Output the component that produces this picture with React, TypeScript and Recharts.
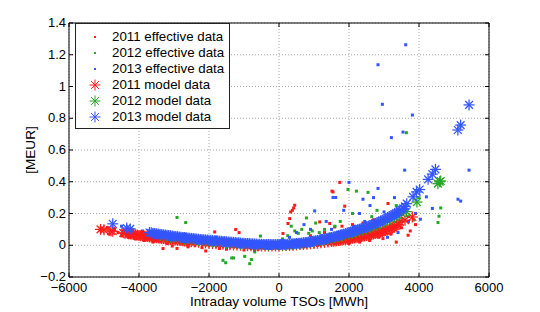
import React from "react";
import {
  ScatterChart,
  Scatter,
  XAxis,
  YAxis,
  CartesianGrid,
  ReferenceArea,
  Legend,
} from "recharts";

const xTicks = [-6000, -4000, -2000, 0, 2000, 4000, 6000];
const yTicks = [-0.2, 0, 0.2, 0.4, 0.6, 0.8, 1, 1.2, 1.4];

// effective data [MWh, MEUR]
const eff2011: [number, number][] = [
  [-4900, 0.11], [-4850, 0.07], [-4700, 0.1], [-4600, 0.08], [-4500, 0.06],
  [-4450, 0.09], [-4300, 0.05], [-4200, 0.085], [-4100, 0.04], [-3950, 0.07],
  [-3850, 0.03], [-3750, 0.06], [-3600, 0.02], [-3450, 0.035], [-3314, -0.021],
  [-3200, 0.01], [-3050, -0.005], [-2914, -0.02], [-2800, 0.02], [-2600, -0.01],
  [-2400, 0.0], [-2200, -0.015], [-2094, -0.036], [-1837, 0.084], [-1700, -0.02],
  [-1500, -0.025], [-1237, 0.099], [-1140, 0.08], [-1000, -0.03], [-800, -0.02],
  [-600, -0.025], [-300, -0.02], [0, -0.02], [114, 0.074], [257, 0.137],
  [306, 0.168], [334, 0.21], [383, 0.22], [420, 0.235], [449, 0.252],
  [500, 0.03], [700, -0.01], [900, 0.06], [1100, 0.0], [1163, 0.147],
  [1300, 0.08], [1449, 0.137], [1514, 0.341], [1543, 0.336], [1591, 0.115],
  [1600, 0.02], [1734, 0.396], [1800, 0.12], [1877, 0.246], [2000, 0.01],
  [2100, 0.13], [2306, 0.02], [2400, 0.14], [2591, 0.03], [2700, 0.16],
  [2850, 0.05], [2971, 0.042], [3114, 0.263], [3200, 0.07], [3350, 0.02],
  [3500, 0.11], [3689, 0.063], [3750, 0.09], [3900, 0.13],
];

const eff2012: [number, number][] = [
  [-4000, 0.06], [-3700, 0.04], [-3500, 0.07], [-3200, 0.03], [-2914, 0.175],
  [-2666, 0.143], [-2500, 0.02], [-2200, 0.04], [-2000, 0.0], [-1800, 0.02],
  [-1600, -0.095], [-1523, -0.11], [-1400, 0.01], [-1351, -0.08], [-1300, -0.08],
  [-1100, 0.03], [-980, -0.07], [-837, -0.116], [-789, -0.09], [-694, -0.042],
  [-531, 0.058], [-300, 0.0], [100, 0.04], [250, 0.06], [350, 0.12],
  [450, 0.09], [550, 0.075], [650, 0.1], [783, 0.172], [850, 0.075],
  [950, 0.09], [1049, 0.14], [1150, 0.08], [1300, 0.1], [1450, 0.07],
  [1600, 0.12], [1750, 0.15], [1971, 0.351], [2100, 0.2], [2211, 0.341],
  [2350, 0.12], [2543, 0.333], [2650, 0.18], [2800, 0.22], [3000, 0.11],
  [3200, 0.13], [3350, 0.25], [3500, 0.15], [3640, 0.709], [3700, 0.18],
  [3850, 0.16], [4000, 0.3], [4543, 0.143], [4571, 0.183], [4620, 0.235],
];

const eff2013: [number, number][] = [
  [-4500, 0.12], [-4200, 0.1], [-3900, 0.09], [-3600, 0.05], [-3300, 0.08],
  [-3000, 0.04], [-2700, 0.07], [-2400, 0.05], [-2100, 0.02], [-1800, 0.05],
  [-1500, 0.01], [-1200, 0.03], [-900, 0.0], [-700, -0.03], [-500, 0.02],
  [-200, -0.02], [100, 0.03], [300, 0.05], [500, 0.08], [714, 0.13],
  [900, 0.1], [1020, 0.216], [1200, 0.06], [1350, 0.15], [1500, 0.1],
  [1543, 0.301], [1620, 0.301], [1700, 0.08], [1850, 0.22], [2000, 0.396],
  [2150, 0.12], [2300, 0.2], [2400, 0.29], [2450, 0.15], [2600, 0.25],
  [2700, 0.3], [2829, 0.358], [2829, 1.137], [2954, 0.888], [3000, 0.21],
  [3100, 0.05], [3211, 0.678], [3300, 0.3], [3400, 0.08], [3543, 0.713],
  [3591, 0.473], [3620, 1.263], [3700, 0.15], [3811, 0.82], [3900, 0.2],
  [4040, 0.164], [4211, 0.305], [4383, 0.232], [5114, 0.29], [5191, 0.278],
  [5429, 0.473],
];

// model data [MWh, MEUR]
const mod2011: [number, number][] = [
  [-5100, 0.1], [-5000, 0.097], [-4800, 0.09], [-4750, 0.088], [-4450, 0.078],
  [-4400, 0.076], [-4300, 0.072], [-4250, 0.0705], [-4200, 0.069], [-4150, 0.0675],
  [-4100, 0.066], [-4050, 0.064], [-4000, 0.062], [-3950, 0.0605], [-3900, 0.059],
  [-3850, 0.0575], [-3800, 0.056], [-3750, 0.0545], [-3700, 0.053], [-3650, 0.0515],
  [-3600, 0.05], [-3550, 0.0485], [-3500, 0.047], [-3450, 0.0455], [-3400, 0.044],
  [-3350, 0.043], [-3300, 0.042], [-3250, 0.0405], [-3200, 0.039], [-3150, 0.0375],
  [-3100, 0.036], [-3050, 0.035], [-3000, 0.034], [-2950, 0.033], [-2900, 0.032],
  [-2850, 0.031], [-2800, 0.03], [-2750, 0.0285], [-2700, 0.027], [-2650, 0.026],
  [-2600, 0.025], [-2550, 0.024], [-2500, 0.023],
  [-2400, 0.021], [-2300, 0.019], [-2200, 0.017], [-2100, 0.015], [-2000, 0.013],
  [-1900, 0.011], [-1800, 0.01], [-1700, 0.008], [-1600, 0.006], [-1500, 0.005],
  [-1400, 0.003], [-1300, 0.002], [-1200, 0.001], [-1100, 0.0], [-1000, -0.001],
  [-900, -0.002], [-800, -0.003], [-700, -0.004], [-600, -0.004], [-500, -0.005],
  [-400, -0.005], [-300, -0.005], [-200, -0.005], [-100, -0.004], [0, -0.004],
  [100, -0.003], [200, -0.002], [300, -0.001], [400, 0.0], [500, 0.002],
  [600, 0.004], [700, 0.005], [800, 0.007], [900, 0.009], [1000, 0.011],
  [1100, 0.013], [1200, 0.016], [1300, 0.018], [1400, 0.021], [1500, 0.024],
  [1550, 0.0255], [1600, 0.027], [1650, 0.0285], [1700, 0.03], [1750, 0.0315],
  [1800, 0.033], [1850, 0.035], [1900, 0.037], [1950, 0.0385], [2000, 0.04],
  [2050, 0.042], [2100, 0.044], [2150, 0.046], [2200, 0.048], [2250, 0.05],
  [2300, 0.052], [2350, 0.0545], [2400, 0.057], [2450, 0.059], [2500, 0.061],
  [2550, 0.0635], [2600, 0.066], [2650, 0.0685], [2700, 0.071], [2750, 0.074],
  [2800, 0.077], [2850, 0.08], [2900, 0.083], [2950, 0.086], [3000, 0.089],
  [3050, 0.0925], [3100, 0.096], [3150, 0.1], [3200, 0.104], [3250, 0.111],
  [3300, 0.118], [3350, 0.124], [3400, 0.13], [3450, 0.147], [3600, 0.158],
  [3810, 0.178],
];

const mod2012: [number, number][] = [
  [-3300, 0.052], [-3100, 0.047], [-2900, 0.042], [-2700, 0.037], [-2500, 0.032],
  [-2300, 0.028], [-2100, 0.024], [-1900, 0.02], [-1700, 0.016], [-1500, 0.012],
  [-1300, 0.009], [-1100, 0.006], [-900, 0.003], [-700, 0.001], [-500, 0.0],
  [-300, -0.001], [-100, -0.001], [0, 0.0], [100, 0.001], [200, 0.002],
  [300, 0.004], [400, 0.006], [500, 0.008], [600, 0.01], [700, 0.013],
  [800, 0.016], [900, 0.019], [1000, 0.022], [1100, 0.026], [1200, 0.03],
  [1300, 0.034], [1400, 0.038], [1500, 0.043], [1600, 0.048], [1700, 0.053],
  [1800, 0.058], [1900, 0.064], [2000, 0.07], [2100, 0.076], [2200, 0.082],
  [2300, 0.089], [2400, 0.096], [2500, 0.103], [2600, 0.111], [2700, 0.119],
  [2800, 0.127], [2900, 0.136], [3000, 0.145], [3100, 0.155], [3200, 0.165],
  [3300, 0.176], [3400, 0.188], [3500, 0.2], [3640, 0.212], [3940, 0.272],
  [4540, 0.388], [4590, 0.4], [4620, 0.405],
];

const mod2013: [number, number][] = [
  [-4750, 0.135], [-4350, 0.108], [-4250, 0.103], [-3700, 0.08], [-3650, 0.078],
  [-3600, 0.076], [-3550, 0.074], [-3500, 0.072], [-3450, 0.0705], [-3400, 0.069],
  [-3350, 0.0675], [-3300, 0.066], [-3250, 0.0645], [-3200, 0.063], [-3150, 0.0615],
  [-3100, 0.06], [-3050, 0.0585], [-3000, 0.057], [-2950, 0.0555], [-2900, 0.054],
  [-2850, 0.0525], [-2800, 0.051], [-2750, 0.0495], [-2700, 0.048], [-2650, 0.047],
  [-2600, 0.046], [-2550, 0.0445], [-2500, 0.043], [-2450, 0.042], [-2400, 0.041],
  [-2350, 0.0395], [-2300, 0.038], [-2250, 0.037], [-2200, 0.036], [-2150, 0.035],
  [-2100, 0.034], [-2050, 0.033], [-2000, 0.032], [-1950, 0.031], [-1900, 0.03],
  [-1850, 0.029], [-1800, 0.028], [-1750, 0.027], [-1700, 0.026], [-1650, 0.025],
  [-1600, 0.024], [-1550, 0.023], [-1500, 0.022], [-1450, 0.021], [-1400, 0.02],
  [-1350, 0.019], [-1300, 0.018], [-1250, 0.017], [-1200, 0.016], [-1150, 0.015],
  [-1100, 0.014], [-1050, 0.013], [-1000, 0.012], [-950, 0.0115], [-900, 0.011],
  [-850, 0.0105], [-800, 0.01], [-750, 0.009], [-700, 0.008], [-650, 0.0075],
  [-600, 0.007], [-550, 0.0065], [-500, 0.006], [-450, 0.0055], [-400, 0.005],
  [-350, 0.005], [-300, 0.005], [-250, 0.0045], [-200, 0.004], [-150, 0.004],
  [-100, 0.004], [-50, 0.004], [0, 0.004], [50, 0.0045], [100, 0.005],
  [150, 0.0055], [200, 0.006], [250, 0.0065], [300, 0.007], [350, 0.008],
  [400, 0.009], [450, 0.01], [500, 0.011], [550, 0.012], [600, 0.013],
  [650, 0.0145], [700, 0.016], [750, 0.0175], [800, 0.019], [850, 0.0205],
  [900, 0.022], [950, 0.024], [1000, 0.026], [1050, 0.028], [1100, 0.03],
  [1150, 0.032], [1200, 0.034], [1250, 0.0365], [1300, 0.039], [1350, 0.0415],
  [1400, 0.044], [1450, 0.0465], [1500, 0.049], [1550, 0.052], [1600, 0.055],
  [1650, 0.058], [1700, 0.061], [1750, 0.064], [1800, 0.067], [1850, 0.07],
  [1900, 0.073], [1950, 0.0765], [2000, 0.08], [2050, 0.0835], [2100, 0.087],
  [2150, 0.0905], [2200, 0.094], [2250, 0.0975], [2300, 0.101], [2350, 0.1045],
  [2400, 0.108], [2450, 0.112], [2500, 0.116], [2550, 0.12], [2600, 0.124],
  [2650, 0.1285], [2700, 0.133], [2750, 0.1375], [2800, 0.142], [2850, 0.1465],
  [2900, 0.151], [2950, 0.156], [3000, 0.161], [3050, 0.1665], [3100, 0.172],
  [3150, 0.1775], [3200, 0.183], [3250, 0.1895], [3300, 0.196], [3350, 0.2025],
  [3400, 0.209], [3450, 0.2165], [3500, 0.224], [3550, 0.232], [3600, 0.245],
  [3650, 0.262], [3830, 0.305], [3930, 0.336], [4020, 0.351], [4260, 0.415],
  [4380, 0.448], [4470, 0.478], [5110, 0.726], [5190, 0.757], [5430, 0.884],
];

const RED = "#ff1a1a";
const GREEN = "#26a626";
const BLUE = "#3355ff";
const FONT = "'Liberation Sans', Arial, Helvetica, sans-serif";

const PLOT_TOP = 23;
const PLOT_RIGHT = 489;

const toPts = (arr: [number, number][]) => arr.map(([x, y]) => ({ x, y }));

const fmt = (v: number) => (v < 0 ? "\u2212" + Math.abs(v) : String(v));

function Dot({ cx, cy, color }: { cx: number; cy: number; color: string }) {
  return <rect x={cx - 1.5} y={cy - 1.5} width={3} height={3} fill={color} />;
}

function Star({ cx, cy, color, sw = 1.25 }: { cx: number; cy: number; color: string; sw?: number }) {
  const r = 5.5;
  const d = r * 0.707;
  return (
    <g stroke={color} strokeWidth={sw}>
      <line x1={cx - r} y1={cy} x2={cx + r} y2={cy} />
      <line x1={cx} y1={cy - r} x2={cx} y2={cy + r} />
      <line x1={cx - d} y1={cy - d} x2={cx + d} y2={cy + d} />
      <line x1={cx - d} y1={cy + d} x2={cx + d} y2={cy - d} />
    </g>
  );
}

function XTick(props: any) {
  const { x, y, payload } = props;
  return (
    <g>
      <line x1={x} x2={x} y1={y} y2={y - 4} stroke="#000" />
      <line x1={x} x2={x} y1={PLOT_TOP} y2={PLOT_TOP + 4} stroke="#000" />
      <text x={x} y={y + 15} textAnchor="middle" fontSize={13} fontFamily={FONT} fill="#000">
        {fmt(payload.value)}
      </text>
    </g>
  );
}

function YTick(props: any) {
  const { x, y, payload } = props;
  return (
    <g>
      <line x1={x} x2={x + 4} y1={y} y2={y} stroke="#000" />
      <line x1={PLOT_RIGHT - 4} x2={PLOT_RIGHT} y1={y} y2={y} stroke="#000" />
      <text x={x - 3} y={y + 4} textAnchor="end" fontSize={13} fontFamily={FONT} fill="#000">
        {fmt(payload.value)}
      </text>
    </g>
  );
}

const legendItems = [
  { name: "2011 effective data", color: RED, model: false },
  { name: "2012 effective data", color: GREEN, model: false },
  { name: "2013 effective data", color: BLUE, model: false },
  { name: "2011 model data", color: RED, model: true },
  { name: "2012 model data", color: GREEN, model: true },
  { name: "2013 model data", color: BLUE, model: true },
];

function LegendBox() {
  return (
    <div
      style={{
        width: 153,
        padding: "5px 0 3px 0",
        border: "1px solid #222",
        background: "#fff",
        fontFamily: FONT,
        fontSize: 13.3,
        color: "#000",
      }}
    >
      {legendItems.map((it) => (
        <div key={it.name} style={{ display: "flex", alignItems: "center", height: 16 }}>
          <svg width={36} height={16} style={{ flex: "none" }}>
            {it.model ? (
              <Star cx={19} cy={8} color={it.color} sw={1} />
            ) : (
              <rect x={18} y={7} width={2} height={2} fill={it.color} />
            )}
          </svg>
          <span style={{ whiteSpace: "nowrap", lineHeight: "16px" }}>{it.name}</span>
        </div>
      ))}
    </div>
  );
}

function YLabel(props: any) {
  const { viewBox } = props;
  const cx = viewBox.x + 1;
  const cy = viewBox.y + viewBox.height / 2;
  return (
    <text
      x={cx}
      y={cy}
      transform={`rotate(-90, ${cx}, ${cy})`}
      textAnchor="middle"
      dominantBaseline="central"
      fontSize={13.6}
      fontFamily={FONT}
      fill="#000"
    >
      [MEUR]
    </text>
  );
}

function XLabel(props: any) {
  const { viewBox } = props;
  return (
    <text
      x={viewBox.x + viewBox.width / 2}
      y={viewBox.y + 29}
      textAnchor="middle"
      fontSize={13.6}
      fontFamily={FONT}
      fill="#000"
    >
      Intraday volume TSOs [MWh]
    </text>
  );
}

export default function App() {
  const series = [
    { name: "2011 effective data", data: eff2011, color: RED, model: false },
    { name: "2012 effective data", data: eff2012, color: GREEN, model: false },
    { name: "2013 effective data", data: eff2013, color: BLUE, model: false },
    { name: "2011 model data", data: mod2011, color: RED, model: true },
    { name: "2012 model data", data: mod2012, color: GREEN, model: true },
    { name: "2013 model data", data: mod2013, color: BLUE, model: true },
  ];

  return (
    <div style={{ position: "absolute", left: 0, top: 0, width: 540, height: 312, background: "#fff" }}>
      <ScatterChart
        width={540}
        height={312}
        margin={{ top: 23, right: 51, bottom: 0, left: 29 }}
      >
        <CartesianGrid stroke="#a8a8a8" strokeDasharray="1 2" />
        <XAxis
          type="number"
          dataKey="x"
          domain={[-6000, 6000]}
          ticks={xTicks}
          interval={0}
          height={35}
          axisLine={false}
          tickLine={false}
          tickSize={0}
          tickMargin={0}
          tick={<XTick />}
          label={<XLabel />}
        />
        <YAxis
          type="number"
          dataKey="y"
          domain={[-0.2, 1.4]}
          ticks={yTicks}
          interval={0}
          width={40}
          axisLine={false}
          tickLine={false}
          tickSize={0}
          tickMargin={0}
          tick={<YTick />}
          label={<YLabel />}
        />
        {series.map((s) => (
          <Scatter
            key={s.name}
            name={s.name}
            data={toPts(s.data)}
            fill={s.color}
            isAnimationActive={false}
            shape={(p: any) =>
              s.model ? (
                <Star cx={p.cx} cy={p.cy} color={s.color} />
              ) : (
                <Dot cx={p.cx} cy={p.cy} color={s.color} />
              )
            }
          />
        ))}
        <ReferenceArea
          x1={-6000}
          x2={6000}
          y1={-0.2}
          y2={1.4}
          fill="none"
          fillOpacity={0}
          stroke="#000"
          strokeWidth={1}
        />
        <Legend
          layout="vertical"
          align="center"
          verticalAlign="middle"
          content={<LegendBox />}
          wrapperStyle={{ left: 75, top: 23, width: 155, height: 106 }}
        />
      </ScatterChart>
    </div>
  );
}
